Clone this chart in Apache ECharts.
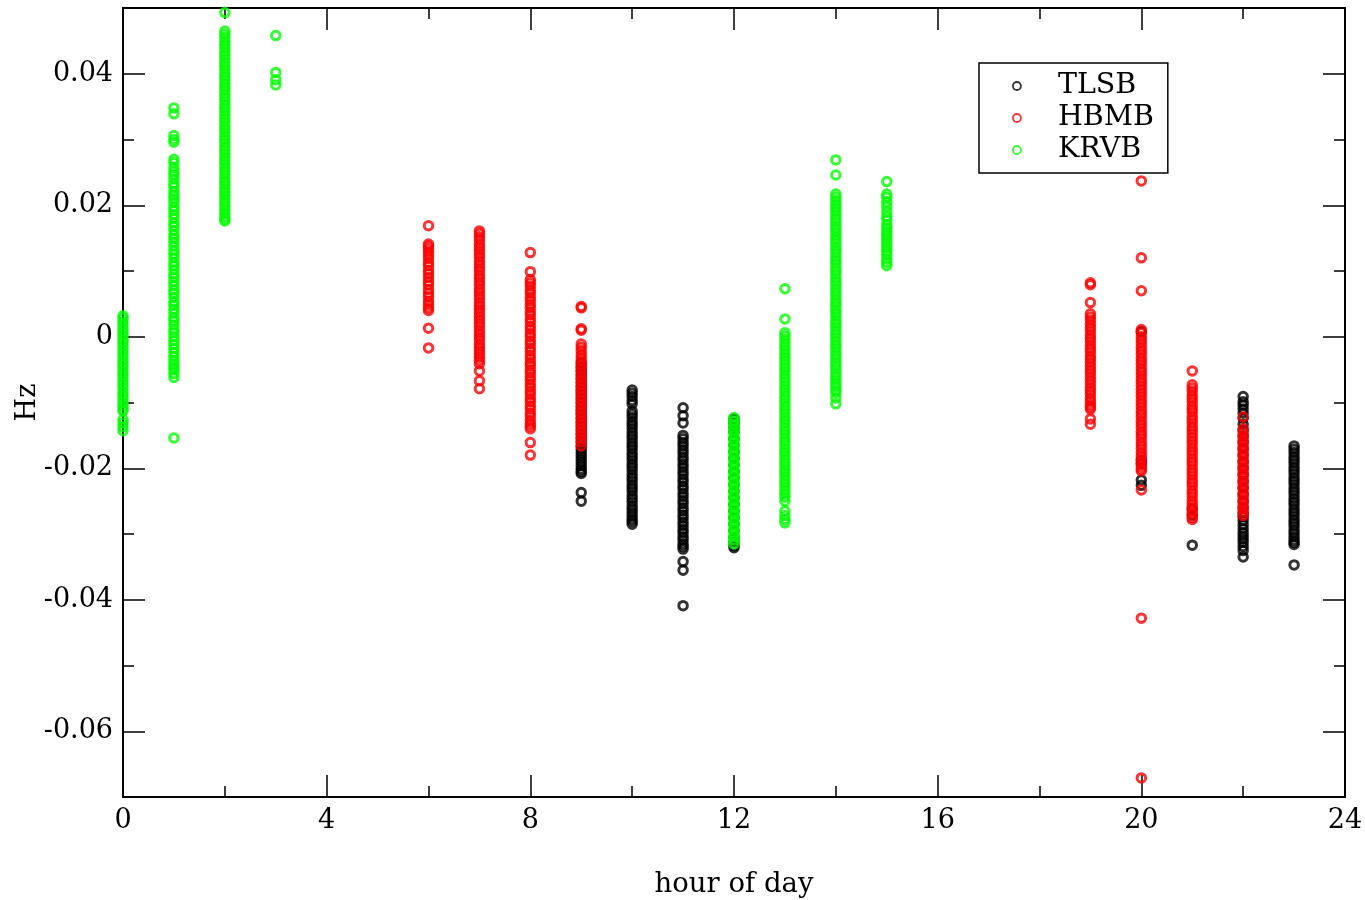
<!DOCTYPE html>
<html><head><meta charset="utf-8">
<script src="https://cdn.jsdelivr.net/npm/echarts@6/dist/echarts.min.js"></script>
<style>html,body{margin:0;padding:0;background:#fff}#c{width:1365px;height:900px}</style>
</head><body><div id="c"></div>
<script>
const seriesNames = ['TLSB', 'HBMB', 'KRVB'];
const xTickLabels = [0, 4, 8, 12, 16, 20, 24];
const yTickLabels = [-0.06, -0.04, -0.02, 0, 0.02, 0.04];

// TLSB (black) — hour of day -> values (Hz)
const TLSB_09 = [-0.0040,-0.0046,-0.0052,-0.0058,-0.0064,-0.0070,-0.0076,-0.0082,-0.0088,-0.0094,-0.0100,-0.0106,-0.0112,-0.0118,-0.0124,-0.0130,-0.0136,-0.0142,-0.0148,-0.0154,-0.0160,-0.0166,-0.0171,-0.0176,-0.0181,-0.0186,-0.0191,-0.0196,-0.0201,-0.0205,-0.0208,-0.0237,-0.0250];
const TLSB_10 = [-0.0081,-0.0086,-0.0091,-0.0097,-0.0102,-0.0113,-0.0118,-0.0123,-0.0129,-0.0134,-0.0139,-0.0145,-0.0150,-0.0155,-0.0161,-0.0166,-0.0171,-0.0177,-0.0182,-0.0187,-0.0193,-0.0198,-0.0203,-0.0209,-0.0214,-0.0219,-0.0225,-0.0230,-0.0235,-0.0241,-0.0246,-0.0251,-0.0257,-0.0262,-0.0267,-0.0272,-0.0277,-0.0281,-0.0285];
const TLSB_11 = [-0.0108,-0.0120,-0.0131,-0.0150,-0.0155,-0.0161,-0.0166,-0.0172,-0.0177,-0.0183,-0.0188,-0.0194,-0.0199,-0.0205,-0.0210,-0.0216,-0.0221,-0.0227,-0.0232,-0.0238,-0.0243,-0.0249,-0.0254,-0.0260,-0.0265,-0.0271,-0.0276,-0.0282,-0.0287,-0.0293,-0.0298,-0.0304,-0.0309,-0.0315,-0.0319,-0.0323,-0.0342,-0.0355,-0.0409];
const TLSB_12 = [-0.0125,-0.0131,-0.0138,-0.0145,-0.0155,-0.0165,-0.0175,-0.0185,-0.0195,-0.0205,-0.0215,-0.0225,-0.0235,-0.0245,-0.0255,-0.0265,-0.0275,-0.0285,-0.0295,-0.0305,-0.0312,-0.0318,-0.0321];
const TLSB_20 = [0.0008,-0.0188,-0.0193,-0.0218,-0.0226];
const TLSB_21 = [-0.0262,-0.0271,-0.0317];
const TLSB_22 = [-0.0091,-0.0099,-0.0104,-0.0110,-0.0116,-0.0124,-0.0133,-0.0142,-0.0151,-0.0160,-0.0170,-0.0180,-0.0190,-0.0200,-0.0210,-0.0220,-0.0230,-0.0240,-0.0250,-0.0260,-0.0268,-0.0274,-0.0280,-0.0286,-0.0292,-0.0298,-0.0303,-0.0308,-0.0313,-0.0319,-0.0325,-0.0335];
const TLSB_23 = [-0.0166,-0.0171,-0.0176,-0.0182,-0.0187,-0.0192,-0.0198,-0.0203,-0.0208,-0.0214,-0.0219,-0.0224,-0.0230,-0.0235,-0.0240,-0.0246,-0.0251,-0.0256,-0.0262,-0.0267,-0.0272,-0.0278,-0.0283,-0.0288,-0.0294,-0.0299,-0.0304,-0.0309,-0.0313,-0.0316,-0.0347];

// HBMB (red)
const HBMB_06 = [0.0169,0.0141,0.0138,0.0134,0.0129,0.0124,0.0119,0.0113,0.0108,0.0101,0.0096,0.0090,0.0084,0.0079,0.0072,0.0066,0.0061,0.0054,0.0049,0.0044,0.0040,0.0013,-0.0017];
const HBMB_07 = [0.0161,0.0157,0.0152,0.0147,0.0141,0.0136,0.0131,0.0126,0.0121,0.0115,0.0110,0.0105,0.0100,0.0094,0.0089,0.0084,0.0079,0.0073,0.0068,0.0063,0.0058,0.0052,0.0047,0.0042,0.0037,0.0031,0.0026,0.0021,0.0016,0.0010,0.0005,0.0000,-0.0005,-0.0011,-0.0016,-0.0021,-0.0026,-0.0031,-0.0036,-0.0041,-0.0052,-0.0067,-0.0079];
const HBMB_08 = [0.0128,0.0099,0.0087,0.0082,0.0077,0.0071,0.0066,0.0060,0.0055,0.0049,0.0044,0.0038,0.0033,0.0027,0.0022,0.0016,0.0011,0.0005,0.0000,-0.0006,-0.0011,-0.0017,-0.0022,-0.0028,-0.0033,-0.0039,-0.0044,-0.0050,-0.0055,-0.0061,-0.0066,-0.0072,-0.0077,-0.0083,-0.0088,-0.0094,-0.0099,-0.0105,-0.0110,-0.0116,-0.0121,-0.0127,-0.0132,-0.0136,-0.0140,-0.0161,-0.0180];
const HBMB_09 = [0.0046,0.0044,0.0012,0.0010,-0.0011,-0.0016,-0.0021,-0.0027,-0.0032,-0.0037,-0.0043,-0.0048,-0.0053,-0.0059,-0.0064,-0.0069,-0.0075,-0.0080,-0.0085,-0.0091,-0.0096,-0.0101,-0.0107,-0.0112,-0.0117,-0.0123,-0.0128,-0.0133,-0.0139,-0.0144,-0.0149,-0.0155,-0.0160,-0.0166];
const HBMB_19 = [0.0082,0.0079,0.0052,0.0035,0.0030,0.0025,0.0019,0.0014,0.0009,0.0003,-0.0002,-0.0007,-0.0013,-0.0018,-0.0023,-0.0029,-0.0034,-0.0039,-0.0045,-0.0050,-0.0055,-0.0061,-0.0066,-0.0071,-0.0077,-0.0082,-0.0087,-0.0093,-0.0098,-0.0103,-0.0107,-0.0110,-0.0125,-0.0133];
const HBMB_20 = [0.0237,0.0120,0.0070,0.0011,0.0006,0.0000,-0.0005,-0.0010,-0.0016,-0.0021,-0.0026,-0.0032,-0.0037,-0.0042,-0.0048,-0.0053,-0.0058,-0.0064,-0.0069,-0.0074,-0.0080,-0.0085,-0.0090,-0.0096,-0.0101,-0.0106,-0.0112,-0.0117,-0.0122,-0.0128,-0.0133,-0.0138,-0.0144,-0.0149,-0.0154,-0.0160,-0.0165,-0.0170,-0.0176,-0.0181,-0.0186,-0.0192,-0.0197,-0.0201,-0.0204,-0.0233,-0.0428,-0.0671];
const HBMB_21 = [-0.0052,-0.0073,-0.0078,-0.0083,-0.0089,-0.0094,-0.0099,-0.0105,-0.0110,-0.0115,-0.0121,-0.0126,-0.0131,-0.0137,-0.0142,-0.0147,-0.0153,-0.0158,-0.0163,-0.0169,-0.0174,-0.0179,-0.0185,-0.0190,-0.0195,-0.0201,-0.0206,-0.0211,-0.0217,-0.0222,-0.0227,-0.0233,-0.0238,-0.0243,-0.0249,-0.0254,-0.0259,-0.0265,-0.0270,-0.0275,-0.0278];
const HBMB_22 = [-0.0122,-0.0140,-0.0145,-0.0150,-0.0156,-0.0161,-0.0166,-0.0172,-0.0177,-0.0182,-0.0188,-0.0193,-0.0198,-0.0204,-0.0209,-0.0214,-0.0220,-0.0225,-0.0230,-0.0236,-0.0241,-0.0246,-0.0252,-0.0257,-0.0262,-0.0267,-0.0272];

// KRVB (green)
const KRVB_00 = [0.0032,0.0028,0.0023,0.0018,0.0012,0.0007,0.0002,-0.0004,-0.0009,-0.0014,-0.0020,-0.0025,-0.0030,-0.0036,-0.0041,-0.0046,-0.0052,-0.0057,-0.0062,-0.0068,-0.0073,-0.0078,-0.0084,-0.0089,-0.0094,-0.0100,-0.0105,-0.0110,-0.0113,-0.0126,-0.0131,-0.0137,-0.0143];
const KRVB_01 = [0.0348,0.0339,0.0306,0.0300,0.0296,0.0270,0.0265,0.0257,0.0251,0.0246,0.0240,0.0233,0.0228,0.0221,0.0215,0.0210,0.0204,0.0197,0.0192,0.0186,0.0180,0.0173,0.0168,0.0162,0.0155,0.0150,0.0144,0.0138,0.0131,0.0126,0.0120,0.0113,0.0108,0.0102,0.0095,0.0090,0.0084,0.0078,0.0071,0.0066,0.0060,0.0053,0.0048,0.0042,0.0036,0.0029,0.0024,0.0018,0.0011,0.0006,0.0000,-0.0006,-0.0012,-0.0018,-0.0024,-0.0030,-0.0036,-0.0041,-0.0046,-0.0050,-0.0056,-0.0062,-0.0154];
const KRVB_02 = [0.0493,0.0465,0.0460,0.0455,0.0449,0.0444,0.0439,0.0433,0.0428,0.0423,0.0417,0.0412,0.0407,0.0401,0.0396,0.0391,0.0385,0.0380,0.0375,0.0369,0.0364,0.0359,0.0353,0.0348,0.0343,0.0337,0.0332,0.0327,0.0321,0.0316,0.0311,0.0305,0.0300,0.0295,0.0289,0.0284,0.0279,0.0273,0.0268,0.0263,0.0257,0.0252,0.0247,0.0241,0.0236,0.0231,0.0225,0.0220,0.0215,0.0209,0.0204,0.0199,0.0193,0.0188,0.0183,0.0179,0.0176];
const KRVB_03 = [0.0458,0.0402,0.0391,0.0383];
const KRVB_12 = [-0.0123,-0.0128,-0.0133,-0.0139,-0.0144,-0.0149,-0.0155,-0.0160,-0.0165,-0.0171,-0.0176,-0.0181,-0.0187,-0.0192,-0.0197,-0.0203,-0.0208,-0.0213,-0.0219,-0.0224,-0.0229,-0.0235,-0.0240,-0.0245,-0.0251,-0.0256,-0.0261,-0.0267,-0.0272,-0.0277,-0.0283,-0.0288,-0.0293,-0.0299,-0.0304,-0.0309,-0.0315];
const KRVB_13 = [0.0073,0.0027,0.0006,0.0001,-0.0004,-0.0010,-0.0015,-0.0020,-0.0026,-0.0031,-0.0036,-0.0042,-0.0047,-0.0052,-0.0058,-0.0063,-0.0068,-0.0074,-0.0079,-0.0084,-0.0090,-0.0095,-0.0100,-0.0106,-0.0111,-0.0116,-0.0122,-0.0127,-0.0132,-0.0138,-0.0143,-0.0148,-0.0154,-0.0159,-0.0164,-0.0170,-0.0175,-0.0180,-0.0186,-0.0191,-0.0196,-0.0202,-0.0207,-0.0212,-0.0218,-0.0223,-0.0228,-0.0234,-0.0239,-0.0244,-0.0250,-0.0265,-0.0272,-0.0278,-0.0283];
const KRVB_14 = [0.0269,0.0246,0.0217,0.0212,0.0207,0.0201,0.0196,0.0191,0.0185,0.0180,0.0175,0.0169,0.0164,0.0159,0.0153,0.0148,0.0143,0.0137,0.0132,0.0127,0.0121,0.0116,0.0111,0.0105,0.0100,0.0095,0.0089,0.0084,0.0079,0.0073,0.0068,0.0063,0.0057,0.0052,0.0047,0.0041,0.0036,0.0031,0.0025,0.0020,0.0015,0.0009,0.0004,-0.0001,-0.0007,-0.0012,-0.0017,-0.0023,-0.0028,-0.0033,-0.0039,-0.0044,-0.0049,-0.0055,-0.0060,-0.0065,-0.0071,-0.0076,-0.0081,-0.0085,-0.0093,-0.0102];
const KRVB_15 = [0.0236,0.0217,0.0212,0.0205,0.0198,0.0190,0.0183,0.0177,0.0170,0.0165,0.0160,0.0155,0.0150,0.0145,0.0140,0.0135,0.0130,0.0125,0.0118,0.0113,0.0108];

const TLSB_cols = [[9, TLSB_09], [10, TLSB_10], [11, TLSB_11], [12, TLSB_12], [20, TLSB_20], [21, TLSB_21], [22, TLSB_22], [23, TLSB_23]];
const HBMB_cols = [[6, HBMB_06], [7, HBMB_07], [8, HBMB_08], [9, HBMB_09], [19, HBMB_19], [20, HBMB_20], [21, HBMB_21], [22, HBMB_22]];
const KRVB_cols = [[0, KRVB_00], [1, KRVB_01], [2, KRVB_02], [3, KRVB_03], [12, KRVB_12], [13, KRVB_13], [14, KRVB_14], [15, KRVB_15]];

function toPoints(cols) {
  const out = [];
  cols.forEach(([h, vals]) => vals.forEach(v => out.push([h, v])));
  return out;
}

const FONT = 'DejaVu Serif';
const colors = ['#000000', '#ff0000', '#00ff00'];
const black = '#000';

function xAx(pos, labels) {
  return {
    type: 'value', min: 0, max: 24, interval: 4, position: pos,
    axisLine: { show: true, onZero: false, lineStyle: { color: black, width: 2 } },
    axisTick: { show: true, inside: true, length: 22, lineStyle: { color: black, width: 1.5 } },
    minorTick: { show: true, splitNumber: 2, length: 11, lineStyle: { color: black, width: 1.5 } },
    splitLine: { show: false }, minorSplitLine: { show: false },
    axisLabel: { show: labels, color: black, fontFamily: FONT, fontSize: 27, margin: 10,
      customValues: xTickLabels, formatter: v => String(v) },
    name: labels ? 'hour of day' : '', nameLocation: 'middle', nameGap: 74,
    nameTextStyle: { color: black, fontFamily: FONT, fontSize: 27.5 }
  };
}
function yMinor(pos) {
  return {
    type: 'value', min: -0.07, max: 0.05, interval: 0.01, position: pos,
    axisLine: { show: true, onZero: false, lineStyle: { color: black, width: 2 } },
    axisTick: { show: true, inside: true, length: 11, lineStyle: { color: black, width: 1.5 } },
    splitLine: { show: false }, axisLabel: { show: false }
  };
}
function yMajor(pos, labels) {
  return {
    type: 'value', min: -0.07, max: 0.05, position: pos,
    axisLine: { show: true, onZero: false, lineStyle: { color: black, width: 2 } },
    axisTick: { show: true, inside: true, length: 22, customValues: yTickLabels, lineStyle: { color: black, width: 1.5 } },
    splitLine: { show: false },
    axisLabel: { show: labels, customValues: yTickLabels, color: black, fontFamily: FONT, fontSize: 27, margin: 10,
      formatter: v => (Math.abs(v) < 1e-9 ? '0' : String(+v.toFixed(2))) },
    name: labels ? 'Hz' : '', nameLocation: 'middle', nameGap: 82, nameMoveOverlap: false,
    nameTextStyle: { color: black, fontFamily: FONT, fontSize: 27 }
  };
}

const allCols = [TLSB_cols, HBMB_cols, KRVB_cols];
const chart = echarts.init(document.getElementById('c'), null, { renderer: 'canvas' });
chart.setOption({
  animation: false,
  backgroundColor: '#fff',
  grid: { left: 123, right: 20, top: 8, bottom: 103, containLabel: false, outerBoundsMode: 'none' },
  xAxis: [xAx('bottom', true), xAx('top', false)],
  yAxis: [yMinor('left'), yMajor('left', true), yMinor('right'), yMajor('right', false)],
  legend: {
    data: seriesNames, orient: 'vertical', left: 979, top: 63,
    backgroundColor: '#fff', borderColor: black, borderWidth: 1.5,
    padding: [7, 14, 7, 33], itemGap: 0, itemWidth: 8, itemHeight: 8,
    itemStyle: { color: 'rgba(255,255,255,0)', borderWidth: 1.8 },
    textStyle: { fontFamily: FONT, fontSize: 28.5, color: black, lineHeight: 32, padding: [0, 0, 0, 32] }
  },
  series: seriesNames.map((name, i) => ({
    name, type: 'scatter', xAxisIndex: 0, yAxisIndex: 1, clip: false,
    symbol: 'circle', symbolSize: 8.5,
    itemStyle: { color: 'rgba(255,255,255,0)', borderColor: colors[i], borderWidth: 3 },
    emphasis: { disabled: true },
    data: toPoints(allCols[i])
  }))
});
</script></body></html>
